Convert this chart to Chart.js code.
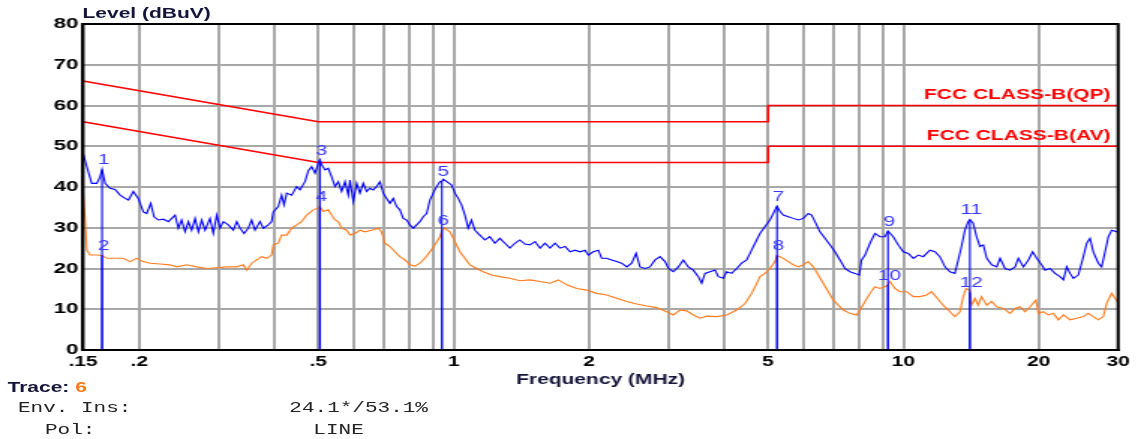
<!DOCTYPE html>
<html>
<head>
<meta charset="utf-8">
<script src="https://cdn.jsdelivr.net/npm/chart.js@4.4.1/dist/chart.umd.min.js"></script>
<style>
  html, body { margin: 0; padding: 0; background: #fff; overflow: hidden; }
  #wrap { position: relative; width: 765px; height: 439px; transform: scaleX(1.4993); transform-origin: 0 0; }
  #chart { position: absolute; left: 0; top: 0; }
  .lbl { position: absolute; white-space: nowrap; line-height: 16px; }
  .sans { font: bold 14px Arial, "Liberation Sans", sans-serif; color: #15153a; }
  .mono { font: 14px "Liberation Mono", "Courier New", monospace; color: #222; }
</style>
</head>
<body>
<div id="wrap">
  <canvas id="chart" width="765" height="439"></canvas>
  <div class="lbl sans" style="left:55px; top:5px;">Level (dBuV)</div>
  <div class="lbl sans" style="left:5px; top:379px;">Trace: <span style="color:#ff7a1a">6</span></div>
  <div class="lbl mono" style="left:12px; top:400px;">Env. Ins:</div>
  <div class="lbl mono" style="left:193px; top:400px;">24.1*/53.1%</div>
  <div class="lbl mono" style="left:30px; top:422px;">Pol:</div>
  <div class="lbl mono" style="left:209px; top:422px;">LINE</div>
</div>
<script>
// peak trace (MHz / dBuV)
const peakFreq = [0.150,0.1529,0.1568,0.1609,0.1636,0.1653,0.1679,0.1722,0.1767,0.1813,0.1860,0.1892,0.1940,0.1990,0.2042,0.2078,0.2121,0.2157,0.2205,0.2263,
  0.2321,0.2402,0.2443,0.2484,0.2528,0.2571,0.2615,0.2661,0.2707,0.2753,0.2801,0.2873,0.2922,0.2973,0.3023,0.3075,0.3155,0.3237,0.3294,0.3350,
  0.3419,0.3495,0.3555,0.3617,0.3710,0.3774,0.3872,0.3938,0.3972,0.4075,0.4145,0.4196,0.4254,0.4363,0.4477,0.4553,0.4672,0.4752,0.4833,0.4917,
  0.5000,0.5043,0.5086,0.5175,0.5263,0.5354,0.5447,0.5540,0.5635,0.5733,0.5831,0.5881,0.5982,0.6087,0.6189,0.6295,0.6406,0.6514,0.6626,0.6742,
  0.6856,0.6973,0.7096,0.7215,0.7340,0.7469,0.7595,0.7725,0.7861,0.7994,0.8131,0.8274,0.8413,0.8558,0.8708,0.8855,0.9006,0.9165,0.9319,0.9415,
  0.9479,0.9725,0.9892,1.0065,1.0236,1.0411,1.0593,1.0773,1.0958,1.1150,1.1437,1.1735,1.2037,1.2351,1.2669,1.3000,1.3334,1.3682,1.4034,1.4400,
  1.4771,1.5171,1.5562,1.596,1.638,1.680,1.724,1.769,1.815,1.862,1.910,1.959,1.993,2.044,2.097,2.133,2.189,2.245,2.304,2.363,
  2.426,2.488,2.544,2.596,2.663,2.732,2.804,2.876,2.951,3.002,3.079,3.159,3.240,3.324,3.410,3.499,3.559,3.621,3.714,3.811,
  3.876,3.976,4.046,4.149,4.259,4.368,4.482,4.558,4.677,4.798,4.923,5.049,5.136,5.235,5.315,5.406,5.546,5.690,5.838,5.989,
  6.144,6.249,6.358,6.522,6.692,6.864,7.043,7.225,7.413,7.604,7.802,7.975,8.071,8.213,8.424,8.643,8.865,9.098,9.238,9.491,
  9.738,9.990,10.25,10.52,10.79,11.07,11.45,11.75,12.05,12.37,12.69,13.01,13.24,13.46,13.70,13.93,14.05,14.29,14.54,14.79,
  15.05,15.32,15.71,16.12,16.40,16.82,17.26,17.71,18.01,18.48,18.96,19.37,19.78,20.29,20.64,21.17,21.73,22.29,22.68,23.07,
  23.46,23.86,24.48,25.12,25.56,25.99,26.43,27.12,27.58,28.07,28.55,29.04,29.80,30.0];
const peakLevel = [48.3,45.0,40.9,40.9,42.5,44.3,40.9,39.7,39.4,38.0,37.2,36.8,38.9,37.2,33.9,33.5,36.0,32.7,31.9,32.1,
  31.5,33.1,29.9,31.9,29.0,31.5,29.4,32.3,29.0,31.9,29.4,32.3,28.6,33.1,29.9,31.5,30.7,29.4,31.5,29.9,
  28.6,29.9,31.9,29.4,31.5,29.9,30.7,31.5,33.9,35.2,38.0,35.6,38.5,38.0,40.1,39.3,41.3,44.0,45.0,43.4,
  45.8,46.7,45.5,44.2,44.6,42.5,40.1,41.3,38.9,41.3,38.0,41.7,36.4,40.9,38.5,40.9,38.9,39.7,39.3,40.1,
  41.3,38.5,37.2,36.0,37.2,35.2,34.4,32.3,31.9,30.7,29.9,30.7,31.5,32.7,33.5,36.8,38.5,40.1,41.3,41.4,
  41.9,41.1,40.5,38.5,37.2,35.6,33.1,29.9,31.9,29.4,28.2,27.0,27.8,26.2,27.4,26.2,25.0,26.2,27.0,26.0,
  25.8,26.6,25.0,26.2,25.0,26.2,25.0,25.4,24.1,24.5,24.1,24.5,23.3,24.1,24.5,22.5,22.5,22.1,21.7,21.3,
  20.4,21.3,23.7,20.4,20.0,20.4,22.1,22.9,21.7,20.0,19.2,20.4,22.1,20.4,19.6,18.0,16.4,18.8,19.2,19.6,
  18.0,17.6,19.2,18.8,20.0,21.3,22.1,23.7,26.2,28.6,30.3,31.9,33.5,35.3,34.0,33.1,32.7,32.3,31.9,32.3,
  33.5,33.1,31.5,29.0,27.4,25.8,24.1,22.1,20.0,19.2,18.8,18.4,22.1,23.3,26.2,28.6,27.8,27.8,29.2,27.8,
  25.8,24.1,23.7,22.5,23.3,22.9,24.5,24.1,22.9,20.4,19.2,18.8,22.1,25.4,29.4,31.5,32.0,31.1,27.8,25.4,
  25.8,22.5,20.9,20.4,22.5,20.0,19.6,20.4,22.5,20.4,22.1,24.1,22.5,20.9,19.6,20.0,18.8,18.0,17.2,20.4,
  18.8,17.6,18.4,22.9,26.2,27.4,24.1,21.3,20.4,24.1,27.8,29.4,29.0,29.2];

// average trace (MHz / dBuV)
const avgFreq = [0.150,0.1516,0.1529,0.1555,0.1609,0.1653,0.1694,0.1752,0.1844,0.1908,0.1974,0.2042,0.2113,0.2224,0.2341,0.2423,0.2550,0.2685,0.2825,0.2973,
  0.3129,0.3294,0.3406,0.3466,0.3555,0.3649,0.3742,0.3840,0.3938,0.3972,0.4075,0.4145,0.4254,0.4363,0.4477,0.4593,0.4713,0.4874,0.5000,0.5043,
  0.5130,0.5263,0.5354,0.5447,0.5540,0.5635,0.5783,0.5881,0.6034,0.6189,0.6350,0.6569,0.6798,0.6914,0.7034,0.7215,0.7404,0.7595,0.7793,0.7994,
  0.8202,0.8413,0.8633,0.8855,0.9086,0.9319,0.9415,0.9562,0.9808,1.0065,1.0324,1.0593,1.0866,1.1247,1.1633,1.2139,1.2669,1.3334,1.4034,1.4771,
  1.5562,1.638,1.709,1.785,1.878,1.976,2.080,2.189,2.304,2.426,2.553,2.687,2.828,2.977,3.079,3.186,3.297,3.410,3.529,3.653,
  3.844,4.046,4.259,4.444,4.597,4.677,4.798,4.923,5.049,5.181,5.235,5.406,5.546,5.690,5.838,5.989,6.144,6.303,6.467,6.634,
  6.806,6.982,7.163,7.349,7.604,7.870,8.003,8.213,8.424,8.643,8.865,9.098,9.238,9.332,9.575,9.821,10.17,10.52,10.88,11.26,
  11.55,11.85,12.26,12.69,13.01,13.35,13.58,13.77,14.00,14.05,14.17,14.42,14.66,14.91,15.32,15.71,16.12,16.68,17.26,17.71,
  18.17,18.64,19.12,19.71,19.95,20.46,20.99,21.54,22.10,22.68,23.46,24.28,25.12,25.77,26.43,27.12,27.82,28.31,29.04,29.54,30.0];
const avgLevel = [38.9,31.9,24.5,23.3,23.3,23.2,22.5,22.5,22.5,21.7,22.5,21.7,21.3,21.1,20.9,20.4,20.9,20.4,20.0,20.2,
  20.4,20.4,20.9,19.6,21.3,22.1,22.9,22.5,23.3,25.8,26.2,28.2,28.2,29.9,30.7,31.5,33.1,34.4,34.8,35.2,
  34.0,34.4,33.1,31.9,31.5,29.9,29.4,28.2,28.6,29.4,29.0,29.4,29.9,29.0,26.2,25.4,24.1,22.9,22.1,20.9,
  20.6,21.3,22.5,24.1,25.8,27.8,29.3,29.9,29.0,26.6,24.1,22.5,20.9,20.0,19.2,18.4,18.0,17.6,17.0,17.2,
  16.8,16.4,17.2,16.0,15.1,14.7,13.9,13.5,12.7,11.9,11.3,10.8,10.4,9.4,8.6,9.8,9.6,8.6,7.8,8.3,
  8.2,8.6,9.8,11.4,13.9,15.5,18.0,18.8,20.0,21.7,23.2,22.5,21.7,20.9,20.4,20.9,21.7,20.4,18.4,16.4,
  14.3,12.3,11.0,9.8,9.0,8.6,9.8,11.9,13.9,15.5,15.1,15.5,16.0,16.8,15.1,14.3,14.3,13.1,13.1,13.5,
  14.3,12.9,11.0,9.4,8.2,9.4,13.1,15.1,14.7,14.2,11.0,12.7,11.0,13.1,11.0,11.9,10.6,10.2,9.0,10.2,
  10.6,9.4,10.6,12.3,9.0,9.4,8.6,9.0,7.4,8.6,7.4,7.8,8.2,9.0,8.2,7.4,8.2,11.5,13.9,12.7,11.5];

// limit lines
const qpFreq = [0.15, 0.5, 5, 5, 30];
const qpLevel = [66, 56, 56, 60, 60];
const avFreq = [0.15, 0.5, 5, 5, 30];
const avLevel = [56, 46, 46, 50, 50];
const limitNames = ['FCC CLASS-B(QP)', 'FCC CLASS-B(AV)'];

// markers
const markerFreq = [0.1653, 0.1653, 0.5043, 0.5043, 0.9415, 0.9415, 5.235, 5.235, 9.238, 9.238, 14.05, 14.05];
const markerLevel = [44.3, 23.2, 46.7, 35.2, 41.4, 29.3, 35.3, 23.2, 29.2, 16.0, 32.0, 14.2];
const markerLabels = ['1', '2', '3', '4', '5', '6', '7', '8', '9', '10', '11', '12'];

// x axis
const xTickValues = [0.15, 0.2, 0.3, 0.4, 0.5, 0.6, 0.7, 0.8, 0.9, 1, 2, 3, 4, 5, 6, 7, 8, 9, 10, 20, 30];
const xTickLabels = ['.15', '.2', '', '', '.5', '', '', '', '', '1', '2', '', '', '5', '', '', '', '', '10', '20', '30'];

const FONT = 'Arial, "Liberation Sans", sans-serif';
const toPoints = (xs, ys) => xs.map((f, i) => ({ x: f, y: ys[i] }));

const markerPlugin = {
    id: 'markers',
    afterDatasetsDraw(chart) {
        const { ctx, chartArea, scales: { x, y } } = chart;
        ctx.save();

        // names of the limit lines, above their right end
        ctx.font = 'bold 14px ' + FONT;
        ctx.fillStyle = '#ff0000';
        ctx.textAlign = 'right';
        ctx.textBaseline = 'bottom';
        const lastLevels = [qpLevel[qpLevel.length - 1], avLevel[avLevel.length - 1]];
        limitNames.forEach((name, i) => {
            ctx.fillText(name, chartArea.right - 5, y.getPixelForValue(lastLevels[i]) - 3);
        });

        // marker lines and numbers
        const y0 = y.getPixelForValue(0);
        ctx.strokeStyle = '#0000ff';
        ctx.lineWidth = 1.1;
        ctx.fillStyle = '#3a3aff';
        ctx.font = '14px ' + FONT;
        ctx.textAlign = 'center';
        markerFreq.forEach((f, i) => {
            const px = x.getPixelForValue(f);
            const py = y.getPixelForValue(markerLevel[i]);
            ctx.beginPath();
            ctx.moveTo(px, py);
            ctx.lineTo(px, y0);
            ctx.stroke();
            ctx.fillText(markerLabels[i], px + 1, py - 2);
        });

        // frame
        ctx.strokeStyle = '#000';
        ctx.lineWidth = 2;
        ctx.strokeRect(chartArea.left, chartArea.top, chartArea.right - chartArea.left, chartArea.bottom - chartArea.top);
        ctx.restore();
    }
};

new Chart(document.getElementById('chart'), {
    type: 'line',
    data: {
        datasets: [
            { label: 'Peak', data: toPoints(peakFreq, peakLevel), borderColor: '#0000ff', borderWidth: 1.1, pointRadius: 0 },
            { label: 'Average', data: toPoints(avgFreq, avgLevel), borderColor: '#ff7a1a', borderWidth: 1.1, pointRadius: 0 },
            { label: limitNames[0], data: toPoints(qpFreq, qpLevel), borderColor: '#ff0000', borderWidth: 1.6, pointRadius: 0 },
            { label: limitNames[1], data: toPoints(avFreq, avLevel), borderColor: '#ff0000', borderWidth: 1.6, pointRadius: 0 }
        ]
    },
    options: {
        responsive: false,
        animation: false,
        layout: { padding: { top: 24, right: 19.3, bottom: 0, left: 0 } },
        plugins: {
            legend: { display: false },
            tooltip: { enabled: false }
        },
        scales: {
            x: {
                type: 'logarithmic',
                min: 0.15,
                max: 30,
                afterBuildTicks: (scale) => { scale.ticks = xTickValues.map(v => ({ value: v })); },
                afterFit: (scale) => { scale.height = 89; },
                grid: { color: '#a8a8a8', lineWidth: 2, drawTicks: false },
                border: { color: '#000', width: 2 },
                ticks: {
                    autoSkip: false,
                    maxRotation: 0,
                    minRotation: 0,
                    padding: 4,
                    color: '#000',
                    font: { family: FONT, size: 14, weight: 'bold' },
                    callback: (v) => {
                        const i = xTickValues.indexOf(v);
                        return i >= 0 ? xTickLabels[i] : '';
                    }
                },
                title: {
                    display: true,
                    text: 'Frequency (MHz)',
                    color: '#15153a',
                    font: { family: FONT, size: 14, weight: 'bold' },
                    padding: { top: 0, bottom: 50 }
                }
            },
            y: {
                min: 0,
                max: 80,
                afterFit: (scale) => { scale.width = 55.4; },
                grid: { color: '#a8a8a8', lineWidth: 2, drawTicks: false },
                border: { color: '#000', width: 2 },
                ticks: {
                    stepSize: 10,
                    padding: 3,
                    color: '#000',
                    font: { family: FONT, size: 15, weight: 'bold' }
                }
            }
        }
    },
    plugins: [markerPlugin]
});
</script>
</body>
</html>
